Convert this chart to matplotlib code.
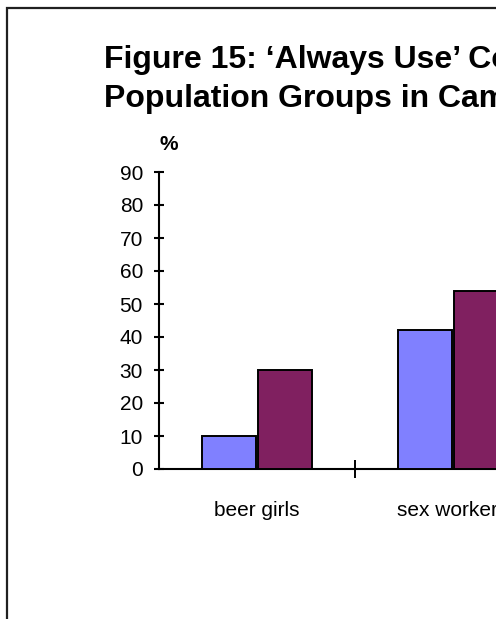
import matplotlib
matplotlib.use("Agg")
import matplotlib.pyplot as plt
from matplotlib.patches import Rectangle
import numpy as np

plt.rcParams["font.family"] = ["Liberation Sans", "DejaVu Sans"]

categories = ["beer girls", "sex workers"]
series_first = [10, 42]
series_second = [30, 54]
y_ticks = [0, 10, 20, 30, 40, 50, 60, 70, 80, 90]

color_first = "#8080FF"
color_second = "#802060"

W, H = 496, 619
fig = plt.figure(figsize=(W / 100, H / 100), dpi=100)

# outer frame of the figure panel
fig.patches.append(Rectangle((7 / W, -0.1), 1.2, 1 - 7.5 / H + 0.1,
                             transform=fig.transFigure, fill=False,
                             edgecolor="#202020", linewidth=1.6, zorder=0))

# title
fig.text(104 / W, 1 - 68 / H, "Figure 15: \u2018Always Use\u2019 Condom",
         fontsize=23, fontweight="bold", ha="left", va="baseline")
fig.text(104 / W, 1 - 107 / H, "Population Groups in Cambodia",
         fontsize=23, fontweight="bold", ha="left", va="baseline")

# axes extend past the right edge of the figure
ax_left = 159 / W
ax_bottom = (H - 469) / H
ax_height = (469 - 172) / H
ax_width = 3 * 196 / W
ax = fig.add_axes([ax_left, ax_bottom, ax_width, ax_height])

x = np.arange(len(categories))
bw = 0.275
off = 0.145
ax.bar(x - off, series_first, width=bw, color=color_first,
       edgecolor="black", linewidth=1.4, zorder=3)
ax.bar(x + off, series_second, width=bw, color=color_second,
       edgecolor="black", linewidth=1.4, zorder=3)

ax.set_xlim(-0.5, 2.5)
ax.set_ylim(0, 90)
ax.set_yticks(y_ticks)
ax.set_yticklabels([str(v) for v in y_ticks])

ax.set_xticks(x)
ax.set_xticklabels(categories)
ax.set_xticks(np.arange(len(categories)) + 0.5, minor=True)

for s in ["top", "right"]:
    ax.spines[s].set_visible(False)
for s in ["left", "bottom"]:
    ax.spines[s].set_linewidth(1.5)

ax.tick_params(axis="y", which="major", direction="inout", length=7,
               width=1.5, pad=8, labelsize=15)
ax.tick_params(axis="x", which="major", length=0, pad=23, labelsize=15)
ax.tick_params(axis="x", which="minor", direction="inout", length=13,
               width=1.4)

fig.text(159 / W, 1 - 150 / H, "%", fontsize=15, fontweight="bold",
         ha="left", va="baseline")

fig.savefig("out.png", dpi=100)
